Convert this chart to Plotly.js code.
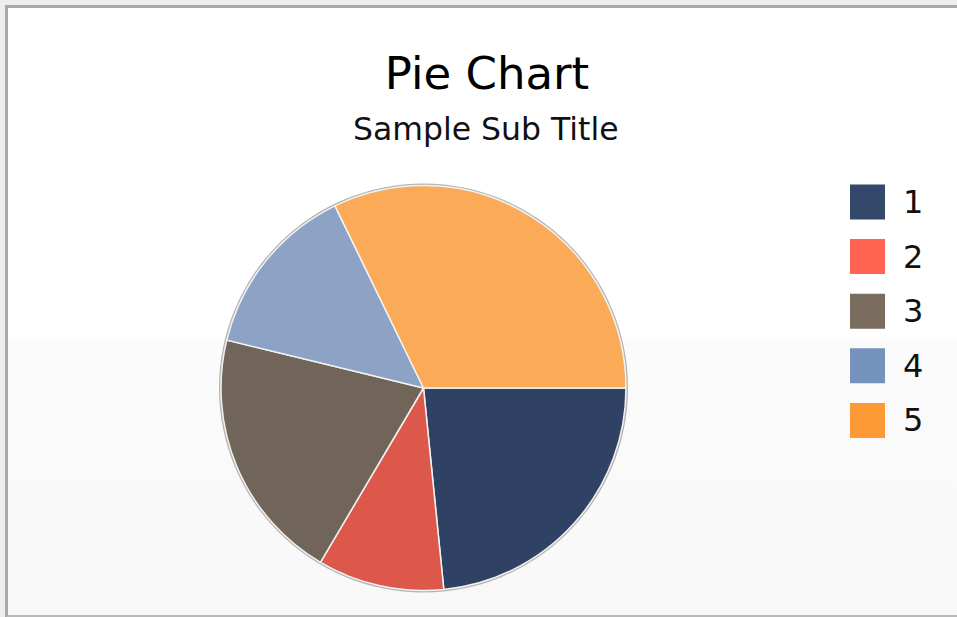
<!DOCTYPE html>
<html>
<head>
<meta charset="utf-8">
<script src="https://cdn.plot.ly/plotly-3.0.1.min.js"></script>
<style>
  html, body { margin: 0; padding: 0; background: #ededed; }
  #frame {
    position: absolute; left: 5px; top: 5px; width: 960px; height: 607px;
    border-top: 3px solid #a8a8a8; border-left: 3px solid #a8a8a8; border-bottom: 3px solid #b8b8b8;
    background: linear-gradient(to bottom, #ffffff 0%, #ffffff 54%, #fbfbfb 55.2%, #f8f8f8 100%);
  }
  #chart { position: absolute; left: 0; top: 0; width: 957px; height: 617px; }
</style>
</head>
<body>
<div id="frame"></div>
<div id="chart"></div>
<script>
// ---- data ----
const labels = ['1', '2', '3', '4', '5'];
const values = [23.4, 10.1, 20.3, 14.0, 32.2];
const sliceColors = ['#2f4263', '#dc584b', '#71655a', '#8ca3c6', '#fbab58'];
const legendColors = ['#34486b', '#ff6352', '#7a6d5f', '#7592bd', '#fd9a35'];
const titleText = 'Pie Chart';
const subtitleText = 'Sample Sub Title';

// ---- layout helpers (pixel -> paper) ----
const W = 957, H = 617;
const px = x => x / W;
const py = y => 1 - y / H;

const cx = 423.5, cy = 388, R = 202.5;

const ringTrace = {
  type: 'pie', values: [1], labels: ['ring'], sort: false,
  marker: { colors: ['#b4b4b4'] }, textinfo: 'none', hoverinfo: 'skip',
  showlegend: false,
  domain: { x: [px(cx - R - 2), px(cx + R + 2)], y: [py(cy + R + 2), py(cy - R - 2)] }
};

const pieTrace = {
  type: 'pie', labels: labels, values: values, sort: false,
  direction: 'clockwise', rotation: 90,
  marker: { colors: sliceColors, line: { color: '#f2f2f2', width: 1.5 } },
  textinfo: 'none', hoverinfo: 'label+value+percent',
  showlegend: false,
  domain: { x: [px(cx - R), px(cx + R)], y: [py(cy + R), py(cy - R)] }
};

const shapes = [];
const annotations = [];
const legX0 = 850, legX1 = 885, legY0 = 202, legStep = 54.6, half = 17.5;
labels.forEach((lab, i) => {
  const yc = legY0 + i * legStep;
  shapes.push({
    type: 'rect', xref: 'paper', yref: 'paper',
    x0: px(legX0), x1: px(legX1), y0: py(yc + half), y1: py(yc - half),
    fillcolor: legendColors[i], line: { width: 0 }
  });
  annotations.push({
    xref: 'paper', yref: 'paper', x: px(901), y: py(yc), xanchor: 'left', yanchor: 'middle',
    text: lab, showarrow: false,
    font: { family: 'DejaVu Sans, Verdana, sans-serif', size: 32, color: '#111' }
  });
});

annotations.push({
  xref: 'paper', yref: 'paper', x: px(486), y: py(129), xanchor: 'center', yanchor: 'middle',
  text: subtitleText, showarrow: false,
  font: { family: 'DejaVu Sans, Verdana, sans-serif', size: 31.5, color: '#111' }
});

const layout = {
  width: W, height: H,
  margin: { l: 0, r: 0, t: 0, b: 0 },
  paper_bgcolor: 'rgba(0,0,0,0)',
  plot_bgcolor: 'rgba(0,0,0,0)',
  title: {
    text: titleText, x: px(487), xanchor: 'center', xref: 'paper',
    y: 1 - 73 / H, yanchor: 'middle', yref: 'container',
    font: { family: 'DejaVu Sans, Verdana, sans-serif', size: 45, color: '#000' }
  },
  showlegend: false,
  shapes: shapes,
  annotations: annotations
};

Plotly.newPlot('chart', [ringTrace, pieTrace], layout, { displayModeBar: false });
</script>
</body>
</html>
